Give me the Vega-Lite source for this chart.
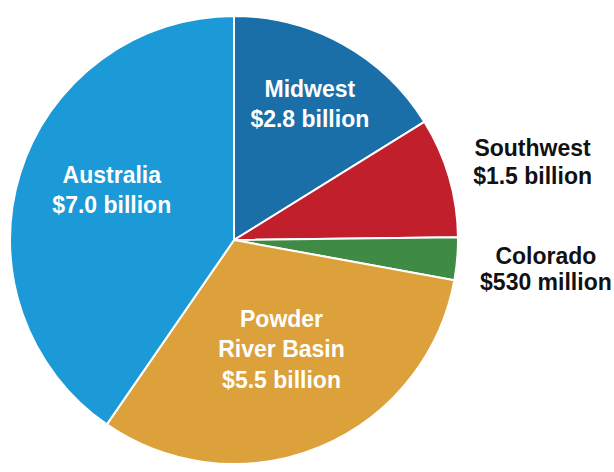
{
  "$schema": "https://vega.github.io/schema/vega-lite/v6.json",
  "autosize": "none",
  "width": 468,
  "height": 472,
  "padding": {"top": 4, "left": 0, "right": 146, "bottom": 0},
  "background": "white",
  "config": {"view": {"stroke": null}},
  "data": {
    "values": [
      {"region": "Midwest", "value": 2.8, "order": 1, "label": "Midwest\n$2.8 billion"},
      {"region": "Southwest", "value": 1.5, "order": 2, "label": "Southwest\n$1.5 billion"},
      {"region": "Colorado", "value": 0.53, "order": 3, "label": "Colorado\n$530 million"},
      {"region": "Powder River Basin", "value": 5.5, "order": 4, "label": "Powder\nRiver Basin\n$5.5 billion"},
      {"region": "Australia", "value": 7.0, "order": 5, "label": "Australia\n$7.0 billion"}
    ]
  },
  "encoding": {
    "theta": {"field": "value", "type": "quantitative", "stack": true},
    "order": {"field": "order", "type": "quantitative"}
  },
  "layer": [
    {
      "mark": {"type": "arc", "outerRadius": 224, "stroke": "white", "strokeWidth": 2},
      "encoding": {
        "color": {
          "field": "region",
          "type": "nominal",
          "scale": {
            "domain": ["Midwest", "Southwest", "Colorado", "Powder River Basin", "Australia"],
            "range": ["#1a6fa8", "#c21f2c", "#3f8a44", "#dca13a", "#1b9ad7"]
          },
          "legend": null
        }
      }
    },
    {
      "mark": {"type": "text", "radius": 156, "dy": -14, "font": "Liberation Sans", "fontWeight": "bold", "fontSize": 23, "lineBreak": "\n", "lineHeight": 30, "fill": "white", "align": "center", "baseline": "middle"},
      "encoding": {"text": {"condition": {"test": "datum.region === 'Midwest'", "field": "label"}, "value": ""}}
    },
    {
      "mark": {"type": "text", "radius": 128, "dy": -26, "font": "Liberation Sans", "fontWeight": "bold", "fontSize": 23, "lineBreak": "\n", "lineHeight": 30, "fill": "white", "align": "center", "baseline": "middle"},
      "encoding": {"text": {"condition": {"test": "datum.region === 'Australia'", "field": "label"}, "value": ""}}
    },
    {
      "mark": {"type": "text", "radius": 124, "dy": -35, "font": "Liberation Sans", "fontWeight": "bold", "fontSize": 23, "lineBreak": "\n", "lineHeight": 30.5, "fill": "white", "align": "center", "baseline": "middle"},
      "encoding": {"text": {"condition": {"test": "datum.region === 'Powder River Basin'", "field": "label"}, "value": ""}}
    },
    {
      "mark": {"type": "text", "radius": 311, "dy": -4, "font": "Liberation Sans", "fontWeight": "bold", "fontSize": 23, "lineBreak": "\n", "lineHeight": 28, "fill": "#111111", "align": "center", "baseline": "middle"},
      "encoding": {"text": {"condition": {"test": "datum.region === 'Southwest'", "field": "label"}, "value": ""}}
    },
    {
      "mark": {"type": "text", "radius": 313, "dy": -9, "font": "Liberation Sans", "fontWeight": "bold", "fontSize": 23, "lineBreak": "\n", "lineHeight": 26, "fill": "#111111", "align": "center", "baseline": "middle"},
      "encoding": {"text": {"condition": {"test": "datum.region === 'Colorado'", "field": "label"}, "value": ""}}
    }
  ]
}
